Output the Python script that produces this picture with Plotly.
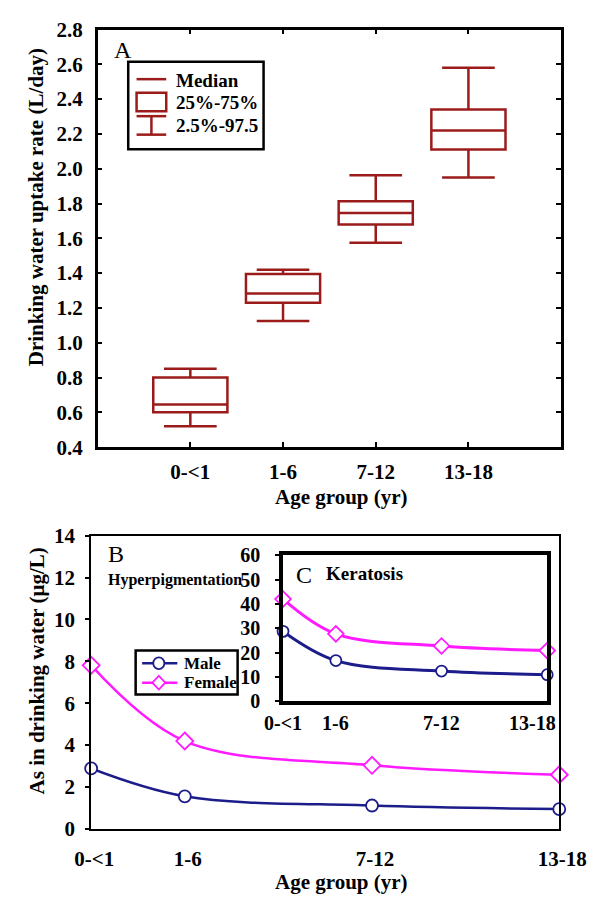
import plotly.graph_objects as go

W, H = 616, 905

# ---------------- data ----------------
age_groups = ["0-<1", "1-6", "7-12", "13-18"]
# Panel A: drinking water uptake rate (L/day)
p2_5 = [0.52, 1.125, 1.575, 1.95]
q25 = [0.60, 1.23, 1.68, 2.11]
median = [0.645, 1.283, 1.745, 2.22]
q75 = [0.80, 1.395, 1.813, 2.34]
p97_5 = [0.85, 1.42, 1.963, 2.58]
# Panel B: hyperpigmentation (µg/L)
b_male = [2.88, 1.55, 1.11, 0.94]
b_female = [7.81, 4.19, 3.03, 2.58]
# Panel C: keratosis (µg/L)
c_male = [28.7, 16.7, 12.4, 10.9]
c_female = [42.0, 27.7, 22.7, 20.8]
# axis position of each age group in panels B and C
age_pos = [0, 1, 3, 5]
a_pos = [0, 1, 2, 3]

RED = "#9b1b1b"
NAVY = "#1c1c8a"
MAG = "#ff1aff"
FONT = "Liberation Serif"


def X(px):
    return px / W


def Y(py):
    return 1 - py / H


fig = go.Figure()

# Panel A boxes
fig.add_trace(go.Box(
    x=a_pos, q1=q25, median=median, q3=q75,
    lowerfence=p2_5, upperfence=p97_5,
    width=0.8, whiskerwidth=0.71,
    line=dict(color=RED, width=2.5), fillcolor="rgba(0,0,0,0)",
    boxpoints=False, showlegend=False, hoverinfo="skip",
    xaxis="x", yaxis="y"))

# Panel B lines
fig.add_trace(go.Scatter(
    x=age_pos, y=b_female, mode="lines+markers", line=dict(color=MAG, width=2.5, shape="spline"),
    marker=dict(symbol="diamond", size=13, color="white", line=dict(color=MAG, width=1.8)),
    showlegend=False, xaxis="x2", yaxis="y2", cliponaxis=False))
fig.add_trace(go.Scatter(
    x=age_pos, y=b_male, mode="lines+markers", line=dict(color=NAVY, width=2.5, shape="spline"),
    marker=dict(symbol="circle", size=12, color="white", line=dict(color=NAVY, width=1.8)),
    showlegend=False, xaxis="x2", yaxis="y2", cliponaxis=False))

# Panel C lines
fig.add_trace(go.Scatter(
    x=age_pos, y=c_female, mode="lines+markers", line=dict(color=MAG, width=3, shape="spline"),
    marker=dict(symbol="diamond", size=12, color="white", line=dict(color=MAG, width=1.8)),
    showlegend=False, xaxis="x3", yaxis="y3", cliponaxis=False))
fig.add_trace(go.Scatter(
    x=age_pos, y=c_male, mode="lines+markers", line=dict(color=NAVY, width=3, shape="spline"),
    marker=dict(symbol="circle", size=11, color="white", line=dict(color=NAVY, width=1.8)),
    showlegend=False, xaxis="x3", yaxis="y3", cliponaxis=False))

tickf = dict(family=FONT, size=21, color="black", weight="bold")

# Panel pixel boxes
A_x = [87, 587]; A_y = [18, 447]
B_x = [80, 585]; B_y = [538, 839]
C_x = [287, 572]; C_y = [558, 708]

fig.update_layout(
    width=W, height=H, margin=dict(l=0, r=0, t=0, b=0),
    paper_bgcolor="white", plot_bgcolor="white",
    font=dict(family=FONT, color="black"),
    xaxis=dict(domain=[X(A_x[0]), X(A_x[1])], range=[-1, 4], tickvals=a_pos, ticktext=age_groups,
               ticks="inside", ticklen=5, tickwidth=2, tickcolor="black", mirror="ticks",
               showline=True, linewidth=2.5, linecolor="black", showgrid=False, zeroline=False,
               tickfont=tickf, ticklabelstandoff=4, anchor="y", fixedrange=True),
    yaxis=dict(domain=[Y(A_y[1]), Y(A_y[0])], range=[0.4, 2.8], dtick=0.2, tick0=0.4, tickformat=".1f",
               ticks="inside", ticklen=5, tickwidth=2, tickcolor="black", mirror="ticks",
               showline=True, linewidth=2.5, linecolor="black", showgrid=False, zeroline=False,
               tickfont=tickf, ticklabelstandoff=8, anchor="x", fixedrange=True),
    xaxis2=dict(domain=[X(B_x[0]), X(B_x[1])], range=[0, 5], tickvals=age_pos, ticktext=age_groups,
                ticks="", showline=True, linewidth=2, linecolor="black", mirror=True,
                showgrid=False, zeroline=False, tickfont=tickf, ticklabelstandoff=10,
                ticklabelshift=3, anchor="y2", fixedrange=True),
    yaxis2=dict(domain=[Y(B_y[1]), Y(B_y[0])], range=[0, 14], dtick=2, tick0=0,
                ticks="outside", ticklen=4, tickwidth=1.5, tickcolor="black",
                showline=True, linewidth=2, linecolor="black", mirror=True,
                showgrid=False, zeroline=False, tickfont=tickf, ticklabelstandoff=6,
                anchor="x2", fixedrange=True),
    xaxis3=dict(domain=[X(C_x[0]), X(C_x[1])], range=[0, 5], tickvals=age_pos,
                showticklabels=False,
                ticks="", showline=True, linewidth=3.5, linecolor="black", mirror=True,
                showgrid=False, zeroline=False, anchor="y3", fixedrange=True),
    yaxis3=dict(domain=[Y(C_y[1]), Y(C_y[0])], range=[0, 60], dtick=10, tick0=0,
                ticks="outside", ticklen=4, tickwidth=1.5, tickcolor="black",
                showline=True, linewidth=3.5, linecolor="black", mirror=True,
                showgrid=False, zeroline=False, tickfont=dict(tickf, size=20), ticklabelstandoff=11,
                anchor="x3", fixedrange=True),
)

shapes = []
annots = []


def txt(s, x, y, size, bold=True, xanchor="left", angle=0):
    annots.append(dict(text=s, x=X(x), y=Y(y), xref="paper", yref="paper", showarrow=False,
                       xanchor=xanchor, yanchor="middle", textangle=angle,
                       font=dict(family=FONT, size=size, color="black",
                                 weight="bold" if bold else "normal")))


def line(x0, y0, x1, y1, color, width):
    shapes.append(dict(type="line", xref="paper", yref="paper", x0=X(x0), y0=Y(y0), x1=X(x1), y1=Y(y1),
                       line=dict(color=color, width=width)))


def rect(x0, y0, x1, y1, color, width, fill="rgba(0,0,0,0)"):
    shapes.append(dict(type="rect", xref="paper", yref="paper", x0=X(x0), y0=Y(y0), x1=X(x1), y1=Y(y1),
                       line=dict(color=color, width=width), fillcolor=fill))


# Inset C category labels (placed on the inset's own x scale; the last one sits inside the frame)
c_label_shift = [0, 0, 0, -15]
for pos, lab, sh in zip(age_pos, age_groups, c_label_shift):
    annots.append(dict(text=lab, x=pos, xref="x3", y=Y(730), yref="paper", showarrow=False,
                       xanchor="center", yanchor="middle", xshift=sh,
                       font=dict(family=FONT, size=20, color="black", weight="bold")))

# Axis titles
txt("Drinking water uptake rate (L/day)", 20, 201, 21, angle=-90, xanchor="center")
txt("Age group (yr)", 350, 498, 21, xanchor="center")
txt("As in drinking water (μg/L)", 22, 677, 21, angle=-90, xanchor="center")
txt("Age group (yr)", 350, 894, 21, xanchor="center")

# Panel labels
txt("A", 103, 39, 24, bold=False)
txt("B", 96, 557, 24, bold=False)
txt("Hyperpigmentation", 96, 583, 16)
txt("C", 299, 578, 24, bold=False)
txt("Keratosis", 331, 577, 19)

# Legend A
rect(120, 51, 266, 141, "black", 2.5, fill="white")
line(129, 69, 161, 69, RED, 2.5)
rect(129, 83, 161, 102, RED, 2.5)
line(129, 107, 161, 107, RED, 2.5)
line(145, 107, 145, 126, RED, 2.5)
line(129, 126, 161, 126, RED, 2.5)
txt("Median", 169, 70, 19)
txt("25%-75%", 169, 93, 19)
txt("2.5%-97.5", 169, 117, 19)

# Legend B
LX = 128
rect(LX, 656, LX + 110, 701, "black", 2.5, fill="white")
line(LX + 7, 669, LX + 45, 669, NAVY, 2.5)
shapes.append(dict(type="circle", xref="paper", yref="paper",
                   x0=X(LX + 19), x1=X(LX + 31), y0=Y(675), y1=Y(663),
                   line=dict(color=NAVY, width=1.8), fillcolor="white"))
txt("Male", LX + 50, 669, 17)
line(LX + 7, 689, LX + 45, 689, MAG, 2.5)
d = 7
cx = LX + 25
path = "M {} {} L {} {} L {} {} L {} {} Z".format(X(cx), Y(689 - d), X(cx + d), Y(689),
                                                   X(cx), Y(689 + d), X(cx - d), Y(689))
shapes.append(dict(type="path", xref="paper", yref="paper", path=path,
                   line=dict(color=MAG, width=1.8), fillcolor="white"))
txt("Female", LX + 50, 689, 17)

fig.update_layout(shapes=shapes, annotations=annots)

fig.write_html("out.html", config={"displayModeBar": False},
               post_script="document.body.style.margin='0';")
